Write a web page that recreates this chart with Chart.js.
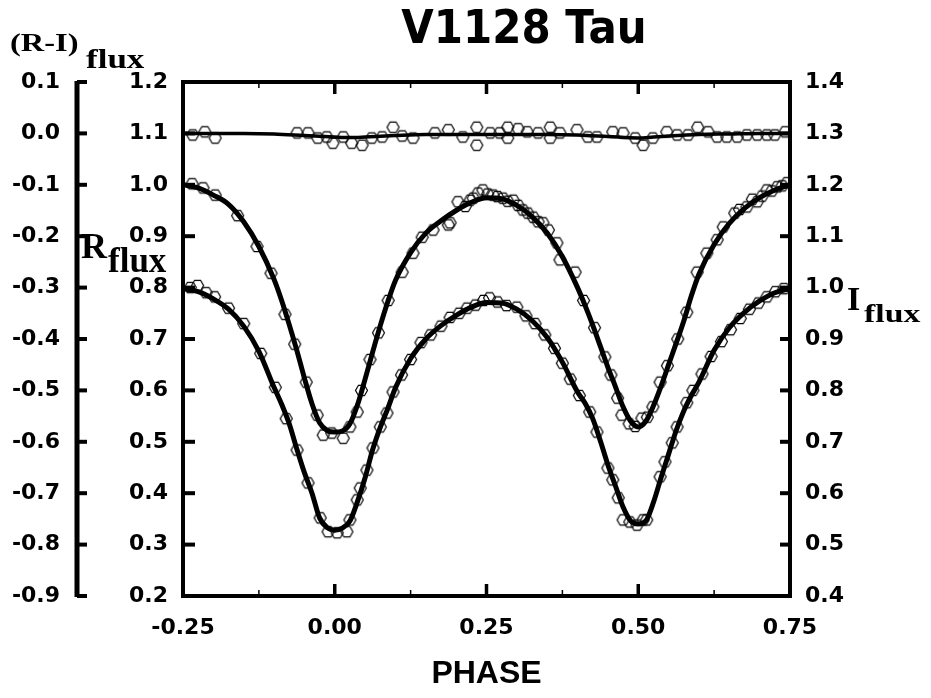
<!DOCTYPE html>
<html>
<head>
<meta charset="utf-8">
<title>V1128 Tau</title>
<script src="https://cdn.jsdelivr.net/npm/chart.js@4.4.0/dist/chart.umd.min.js"></script>
<style>
  html, body { margin: 0; padding: 0; background: #fff; }
  canvas { display: block; }
</style>
</head>
<body>
<canvas id="lc" width="931" height="698"></canvas>
<script>
// model light curves
var modelPhase = [-0.25, -0.225, -0.2, -0.175, -0.15, -0.125, -0.1, -0.0875, -0.075, -0.0625, -0.05, -0.0375, -0.025, -0.0125,
  0, 0.0125, 0.025, 0.0375, 0.05, 0.0625, 0.075, 0.0875, 0.1, 0.125, 0.15, 0.175, 0.2, 0.225, 0.25, 0.275, 0.3, 0.325, 0.35,
  0.375, 0.4, 0.4125, 0.425, 0.4375, 0.45, 0.4625, 0.475, 0.4875, 0.5, 0.5125, 0.525, 0.5375, 0.55, 0.5625, 0.575, 0.5875,
  0.6, 0.625, 0.65, 0.675, 0.7, 0.725, 0.75];
var modelR = [1.000, 0.994, 0.980, 0.962, 0.928, 0.880, 0.816, 0.775, 0.728, 0.678, 0.624, 0.574, 0.537, 0.522,
  0.519, 0.521, 0.535, 0.572, 0.622, 0.675, 0.726, 0.773, 0.814, 0.868, 0.906, 0.930, 0.950, 0.966, 0.975, 0.973, 0.960, 0.938, 0.906,
  0.860, 0.800, 0.765, 0.727, 0.686, 0.645, 0.607, 0.568, 0.540, 0.529, 0.540, 0.570, 0.608, 0.650, 0.692, 0.735, 0.784,
  0.826, 0.884, 0.925, 0.954, 0.975, 0.990, 1.000];
var modelI = [0.998, 0.992, 0.978, 0.958, 0.925, 0.876, 0.806, 0.773, 0.735, 0.686, 0.640, 0.600, 0.552, 0.533,
  0.528, 0.532, 0.546, 0.584, 0.630, 0.685, 0.728, 0.765, 0.805, 0.862, 0.900, 0.926, 0.946, 0.962, 0.971, 0.970, 0.958, 0.936, 0.903,
  0.855, 0.797, 0.775, 0.745, 0.702, 0.655, 0.614, 0.573, 0.546, 0.540, 0.546, 0.582, 0.630, 0.676, 0.722, 0.760, 0.790,
  0.816, 0.878, 0.922, 0.952, 0.974, 0.990, 0.998];
var colorPhase = [-0.25, -0.2, -0.15, -0.1, -0.05, 0, 0.025, 0.05, 0.1, 0.15, 0.2, 0.25, 0.3, 0.35, 0.4, 0.45, 0.5, 0.525,
  0.55, 0.6, 0.65, 0.7, 0.75];
var colorModel = [0.000, 0.000, 0.000, -0.001, -0.004, -0.007, -0.008, -0.007, -0.004, -0.002, -0.002, -0.002, -0.002,
  -0.002, -0.003, -0.006, -0.009, -0.007, -0.005, -0.002, -0.001, 0.000, 0.000];

// observations
var obsRPhase = [-0.235, -0.217, -0.197, -0.160, -0.128, -0.105, -0.082, -0.066, -0.047, -0.029, -0.019, -0.005, 0.014,
  0.025, 0.037, 0.044, 0.058, 0.072, 0.088, 0.111, 0.129, 0.144, 0.162, 0.187, 0.190, 0.203, 0.215, 0.223, 0.228, 0.236,
  0.244, 0.252, 0.261, 0.268, 0.277, 0.285, 0.294, 0.302, 0.310, 0.318, 0.327, 0.335, 0.343, 0.352, 0.366, 0.371, 0.396,
  0.410, 0.428, 0.445, 0.455, 0.466, 0.473, 0.485, 0.495, 0.506, 0.515, 0.524, 0.536, 0.548, 0.565, 0.580, 0.597, 0.613,
  0.630, 0.640, 0.659, 0.667, 0.679, 0.688, 0.696, 0.704, 0.712, 0.720, 0.729, 0.737, 0.745];
var obsR = [1.002, 0.994, 0.980, 0.940, 0.880, 0.828, 0.748, 0.690, 0.616, 0.552, 0.513, 0.517, 0.507,
  0.529, 0.558, 0.600, 0.660, 0.712, 0.775, 0.830, 0.867, 0.898, 0.912, 0.922, 0.926, 0.967, 0.958, 0.970, 0.974, 0.984,
  0.990, 0.982, 0.980, 0.977, 0.974, 0.968, 0.970, 0.960, 0.951, 0.945, 0.937, 0.928, 0.926, 0.912, 0.887, 0.854, 0.830,
  0.775, 0.722, 0.665, 0.630, 0.585, 0.552, 0.535, 0.530, 0.546, 0.548, 0.568, 0.616, 0.648, 0.700, 0.752, 0.830, 0.867,
  0.893, 0.918, 0.945, 0.952, 0.957, 0.972, 0.967, 0.978, 0.990, 0.988, 0.996, 0.998, 1.004];

var obsIPhase = [-0.238, -0.226, -0.212, -0.198, -0.175, -0.150, -0.122, -0.098, -0.080, -0.062, -0.044, -0.024, -0.011,
  0.004, 0.020, 0.025, 0.037, 0.042, 0.053, 0.063, 0.075, 0.086, 0.096, 0.110, 0.125, 0.142, 0.158, 0.175, 0.190, 0.205,
  0.218, 0.232, 0.245, 0.255, 0.268, 0.283, 0.300, 0.315, 0.330, 0.346, 0.362, 0.375, 0.388, 0.403, 0.420, 0.432, 0.450,
  0.458, 0.467, 0.475, 0.486, 0.498, 0.508, 0.514, 0.536, 0.544, 0.556, 0.564, 0.580, 0.590, 0.605, 0.620, 0.637, 0.652,
  0.668, 0.683, 0.698, 0.712, 0.726, 0.740];
var obsI = [1.000, 1.004, 0.990, 0.982, 0.960, 0.930, 0.872, 0.806, 0.745, 0.684, 0.620, 0.552, 0.525,
  0.523, 0.525, 0.548, 0.587, 0.610, 0.645, 0.688, 0.729, 0.756, 0.797, 0.830, 0.860, 0.893, 0.908, 0.925, 0.942, 0.950,
  0.960, 0.966, 0.975, 0.980, 0.972, 0.965, 0.962, 0.945, 0.930, 0.908, 0.882, 0.853, 0.822, 0.790, 0.758, 0.719, 0.649,
  0.626, 0.591, 0.548, 0.544, 0.538, 0.548, 0.548, 0.632, 0.661, 0.698, 0.729, 0.776, 0.800, 0.832, 0.866, 0.895, 0.918,
  0.940, 0.958, 0.970, 0.982, 0.992, 0.998];

var obsRIPhase = [-0.234, -0.214, -0.197, -0.062, -0.044, -0.028, -0.013, -0.003, 0.014, 0.028, 0.045, 0.061, 0.078,
  0.096, 0.111, 0.129, 0.165, 0.187, 0.211, 0.234, 0.234, 0.256, 0.272, 0.285, 0.285, 0.302, 0.317, 0.335, 0.355, 0.355,
  0.371, 0.399, 0.417, 0.432, 0.458, 0.475, 0.495, 0.508, 0.524, 0.547, 0.564, 0.582, 0.598, 0.615, 0.630, 0.646, 0.663,
  0.679, 0.696, 0.712, 0.725, 0.742];
var obsRI = [-0.003, 0.003, -0.009, 0.001, 0.001, -0.009, -0.007, -0.019, -0.007, -0.019, -0.023, -0.009, -0.007,
  0.012, -0.005, -0.009, 0.001, 0.007, -0.007, 0.012, -0.023, 0.001, 0.001, 0.012, -0.009, 0.009, 0.003, 0.001, 0.012, -0.009,
  0.001, 0.007, -0.007, -0.007, 0.003, 0.001, -0.009, -0.023, -0.009, 0.003, -0.003, -0.003, 0.012, 0.003, -0.007, -0.007, -0.007,
  -0.003, -0.003, -0.003, -0.003, 0.003];

var phaseRange = [-0.25, 0.75];
var rRange = [0.2, 1.2];
var iRange = [0.4, 1.4];
var riRange = [-0.9, 0.1];

function pairs(xs, ys) {
  return xs.map(function (x, i) { return { x: x, y: ys[i] }; });
}

function fmt1(v) { return (Math.abs(v) < 1e-9 ? 0 : v).toFixed(1); }

function hexMarker(r) {
  var c = document.createElement('canvas');
  var size = Math.ceil(2 * r + 3);
  c.width = c.height = size;
  var g = c.getContext('2d');
  g.strokeStyle = '#000';
  g.lineWidth = 1.2;
  g.beginPath();
  for (var i = 0; i < 6; i++) {
    var a = Math.PI / 3 * i;
    var px = size / 2 + r * Math.cos(a), py = size / 2 + r * Math.sin(a);
    if (i) g.lineTo(px, py); else g.moveTo(px, py);
  }
  g.closePath();
  g.stroke();
  return c;
}
var hex = hexMarker(6);

var tickFont = { family: '"DejaVu Sans", sans-serif', size: 22, weight: 'bold', lineHeight: 1.2 };

function line(ctx, x1, y1, x2, y2) {
  ctx.beginPath(); ctx.moveTo(x1, y1); ctx.lineTo(x2, y2); ctx.stroke();
}

var axisDecor = {
  id: 'axisDecor',
  afterDraw: function (chart) {
    var ctx = chart.ctx, a = chart.chartArea, s = chart.scales;
    ctx.save();
    ctx.strokeStyle = '#000';
    ctx.lineCap = 'butt';

    ctx.lineWidth = 4;
    ctx.strokeRect(a.left, a.top, a.right - a.left, a.bottom - a.top);

    // inward ticks on R (left) and I (right) sides
    s.yR.ticks.forEach(function (t) {
      var y = s.yR.getPixelForValue(t.value);
      line(ctx, a.left, y, a.left + 12, y);
    });
    s.yI.ticks.forEach(function (t) {
      var y = s.yI.getPixelForValue(t.value);
      line(ctx, a.right, y, a.right - 10, y);
    });

    // detached (R-I) axis
    var ox = s.yRI.right - 9;
    ctx.lineWidth = 5;
    line(ctx, ox, s.yRI.getPixelForValue(riRange[1]) - 1, ox, s.yRI.getPixelForValue(riRange[0]) + 1);
    ctx.lineWidth = 4;
    s.yRI.ticks.forEach(function (t) {
      var y = s.yRI.getPixelForValue(t.value);
      line(ctx, ox, y, ox + 10, y);
    });

    // phase ticks top and bottom, with minor ticks halfway
    var xs = s.x.ticks.map(function (t) { return s.x.getPixelForValue(t.value); });
    xs.forEach(function (x, i) {
      ctx.lineWidth = 3.5;
      line(ctx, x, a.bottom, x, a.bottom - 12);
      line(ctx, x, a.top, x, a.top + 12);
      if (i > 0) {
        var m = (x + xs[i - 1]) / 2;
        ctx.lineWidth = 1.5;
        line(ctx, m, a.bottom, m, a.bottom - 6);
        line(ctx, m, a.top, m, a.top + 6);
      }
    });
    ctx.restore();
  }
};

function stretched(ctx, txt, x, y, font, sx, sy) {
  ctx.save();
  ctx.translate(x, y);
  ctx.scale(sx, sy);
  ctx.font = font;
  ctx.fillText(txt, 0, 0);
  ctx.restore();
}

var labels = {
  id: 'labels',
  afterDraw: function (chart) {
    var ctx = chart.ctx;
    ctx.save();
    ctx.fillStyle = '#000';
    ctx.textAlign = 'center';
    ctx.textBaseline = 'middle';
    stretched(ctx, 'V1128 Tau', 524, 31, 'bold 42px "DejaVu Sans"', 1, 1.1);

    ctx.textAlign = 'left';
    ctx.textBaseline = 'alphabetic';
    var serif = '"Liberation Serif", serif';
    stretched(ctx, '(R-I)', 10, 51, 'bold 26px ' + serif, 1.25, 1);
    stretched(ctx, 'flux', 86, 68, 'bold 28px ' + serif, 1.25, 1);
    stretched(ctx, 'R', 81, 258, 'bold 36px ' + serif, 1, 1);
    stretched(ctx, 'flux', 108, 272, 'bold 35px ' + serif, 1, 1);
    stretched(ctx, 'I', 847, 310, 'bold 34px ' + serif, 1, 1);
    stretched(ctx, 'flux', 864, 322, 'bold 26px ' + serif, 1.3, 1);
    ctx.restore();
  }
};

new Chart(document.getElementById('lc'), {
  type: 'scatter',
  data: {
    datasets: [
      { label: '(R-I) model', data: pairs(colorPhase, colorModel), yAxisID: 'yRI', showLine: true,
        borderColor: '#000', borderWidth: 3.5, pointRadius: 0, cubicInterpolationMode: 'monotone', order: 0 },
      { label: 'R model', data: pairs(modelPhase, modelR), yAxisID: 'yR', showLine: true,
        borderColor: '#000', borderWidth: 5, pointRadius: 0, cubicInterpolationMode: 'monotone', order: 0 },
      { label: 'I model', data: pairs(modelPhase, modelI), yAxisID: 'yI', showLine: true,
        borderColor: '#000', borderWidth: 5, pointRadius: 0, cubicInterpolationMode: 'monotone', order: 0 },
      { label: '(R-I)', data: pairs(obsRIPhase, obsRI), yAxisID: 'yRI', pointStyle: hex, pointRadius: 6, order: 1 },
      { label: 'R', data: pairs(obsRPhase, obsR), yAxisID: 'yR', pointStyle: hex, pointRadius: 6, order: 1 },
      { label: 'I', data: pairs(obsIPhase, obsI), yAxisID: 'yI', pointStyle: hex, pointRadius: 6, order: 1 }
    ]
  },
  options: {
    responsive: false,
    animation: false,
    devicePixelRatio: 1,
    layout: { padding: { top: 82, left: 0, right: 0, bottom: 0 } },
    plugins: { legend: { display: false }, title: { display: false }, tooltip: { enabled: false } },
    scales: {
      x: {
        type: 'linear', position: 'bottom', min: phaseRange[0], max: phaseRange[1],
        grid: { display: false, drawTicks: false, tickLength: 0 }, border: { display: false },
        ticks: { stepSize: 0.25, color: '#000', font: tickFont, padding: 19, maxRotation: 0,
          callback: function (v) { return (Math.abs(v) < 1e-9 ? 0 : v).toFixed(2); } },
        title: { display: true, text: 'PHASE', color: '#000',
          font: { family: '"Liberation Sans", Arial, sans-serif', size: 32, weight: 'bold', lineHeight: 1.2 },
          padding: { top: 0, bottom: 5 } },
        afterFit: function (s) { s.height = 102; }
      },
      yRI: {
        type: 'linear', position: 'left', weight: 2, min: riRange[0], max: riRange[1],
        grid: { display: false, drawTicks: false, tickLength: 0 }, border: { display: false },
        ticks: { stepSize: 0.1, color: '#000', font: tickFont, padding: 26, callback: fmt1 },
        afterFit: function (s) { s.width = 86; }
      },
      yR: {
        type: 'linear', position: 'left', weight: 1, min: rRange[0], max: rRange[1],
        grid: { display: false, drawTicks: false, tickLength: 0 }, border: { display: false },
        ticks: { stepSize: 0.1, color: '#000', font: tickFont, padding: 15, callback: fmt1 },
        afterFit: function (s) { s.width = 97; }
      },
      yI: {
        type: 'linear', position: 'right', min: iRange[0], max: iRange[1],
        grid: { display: false, drawTicks: false, tickLength: 0 }, border: { display: false },
        ticks: { stepSize: 0.1, color: '#000', font: tickFont, padding: 15, callback: fmt1 },
        afterFit: function (s) { s.width = 141; }
      }
    }
  },
  plugins: [axisDecor, labels]
});
</script>
</body>
</html>
